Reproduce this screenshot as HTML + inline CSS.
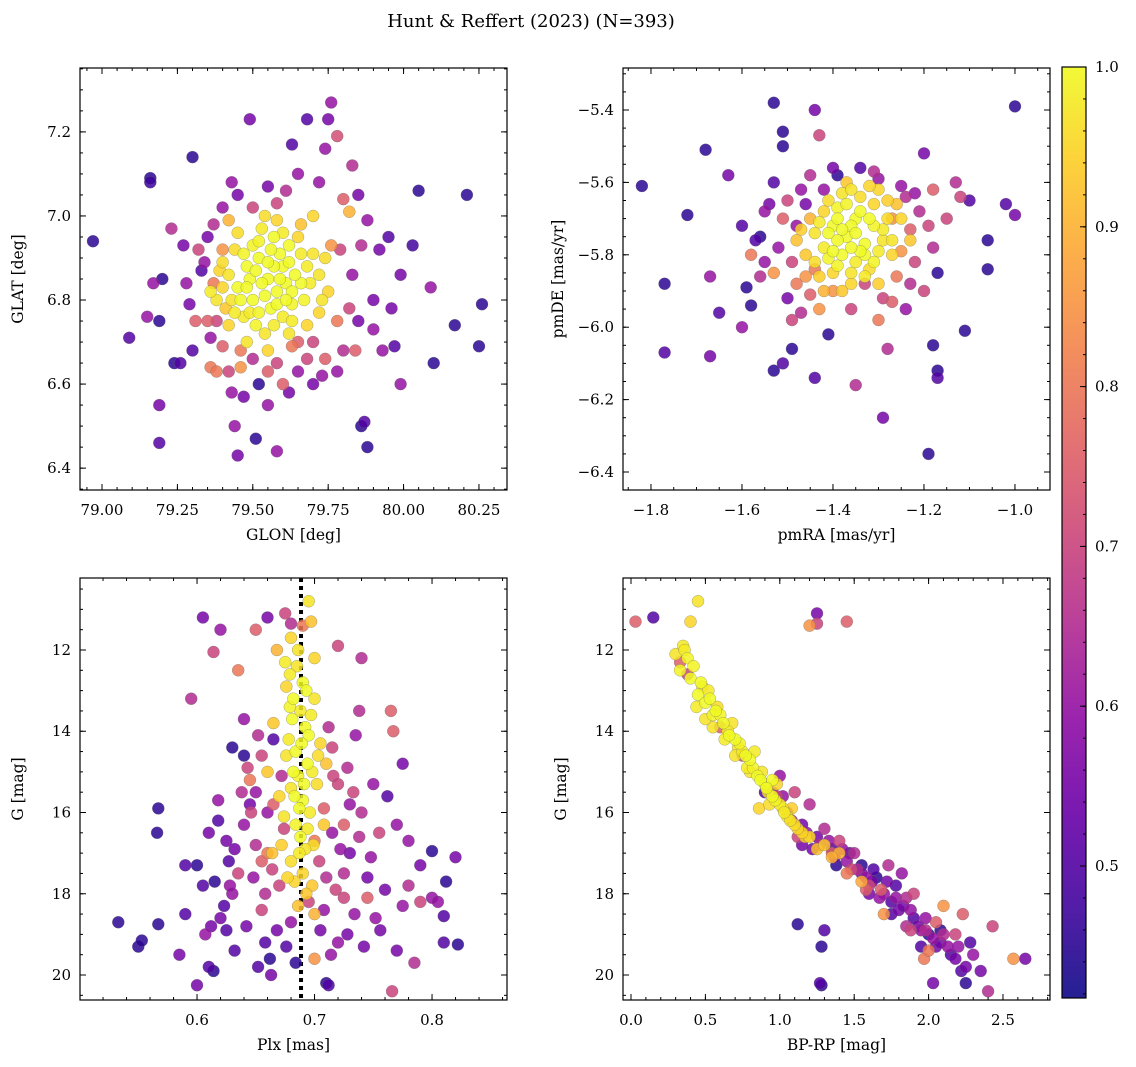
<!DOCTYPE html>
<html><head><meta charset="utf-8">
<style>
html,body{margin:0;padding:0;background:#fff;}
svg{display:block;font-family:"DejaVu Serif","Liberation Serif",serif;}
</style></head>
<body>
<svg id="fig" width="1136" height="1067" viewBox="0 0 1136 1067" xmlns="http://www.w3.org/2000/svg">
<defs>
<linearGradient id="plasma" x1="0" y1="1" x2="0" y2="0">
<stop offset="0" stop-color="#0d0887"/><stop offset="0.1" stop-color="#41049d"/><stop offset="0.2" stop-color="#6a00a8"/><stop offset="0.3" stop-color="#8f0da4"/><stop offset="0.4" stop-color="#b12a90"/><stop offset="0.5" stop-color="#cc4778"/><stop offset="0.6" stop-color="#e16462"/><stop offset="0.7" stop-color="#f2844b"/><stop offset="0.8" stop-color="#fca636"/><stop offset="0.9" stop-color="#fcce25"/><stop offset="1" stop-color="#f0f921"/>
</linearGradient>
</defs>
<text x="531" y="27" font-size="18" text-anchor="middle">Hunt &amp; Reffert (2023) (N=393)</text>
</svg>
<script>
const topLeftPoints = [
[78.97,6.94,.45],[79.16,7.09,.45],[79.16,7.08,.47],[79.30,7.14,.45],[79.49,7.23,.55],[79.76,7.27,.6],[79.75,7.23,.55],[79.68,7.23,.5],[79.63,7.17,.5],[79.83,7.12,.65],[79.74,7.16,.6],[79.78,7.19,.72],[80.05,7.06,.45],[80.21,7.05,.45],[80.26,6.79,.45],[80.25,6.69,.45],[80.17,6.74,.45],[80.09,6.83,.6],[80.10,6.65,.45],[79.99,6.86,.55],[80.03,6.93,.48],[79.09,6.71,.5],[79.15,6.76,.6],[79.19,6.75,.45],[79.17,6.84,.6],[79.20,6.85,.45],[79.23,6.97,.65],[79.19,6.55,.55],[79.19,6.46,.5],[79.24,6.65,.45],[79.26,6.65,.5],[79.45,6.43,.55],[79.51,6.47,.45],[79.44,6.50,.6],[79.58,6.44,.6],[79.86,6.50,.45],[79.87,6.51,.5],[79.88,6.45,.45],[79.99,6.60,.6],[79.52,6.60,.45],[79.60,6.60,.75],[79.30,6.68,.5],[79.29,6.79,.55],[79.33,6.87,.5],[79.35,6.95,.55],[79.38,6.75,.7],[79.42,6.63,.7],[79.47,6.57,.55],[79.55,6.55,.6],[79.65,6.63,.6],[79.70,6.60,.55],[79.74,6.66,.75],[79.80,6.68,.65],[79.85,6.75,.55],[79.90,6.73,.6],[79.93,6.68,.6],[79.92,6.92,.55],[79.95,6.95,.5],[79.88,6.99,.6],[79.85,7.05,.55],[79.80,7.04,.75],[79.65,7.10,.6],[79.55,7.07,.55],[79.45,7.05,.55],[79.40,7.02,.6],[79.32,6.92,.7],[79.37,6.84,.8],[79.40,6.92,.85],[79.42,6.99,.9],[79.78,6.75,.8],[79.82,7.01,.9],[79.76,6.93,.85],[79.35,6.75,.75],[79.63,6.69,.8],[79.46,6.64,.85],[79.31,6.75,.75],[79.36,6.64,.8],[79.70,6.70,.7],[79.83,6.86,.6],[79.58,7.03,.7],
[79.34,6.89,.6],[79.37,6.98,.65],[79.43,7.08,.6],[79.50,7.02,.7],[79.61,7.06,.65],[79.72,7.08,.6],[79.86,6.93,.65],[79.90,6.80,.55],[79.84,6.68,.75],[79.78,6.63,.6],[79.68,6.66,.7],[79.58,6.65,.7],[79.50,6.66,.65],[79.40,6.69,.75],[79.36,6.71,.6],[79.28,6.84,.6],[79.27,6.93,.55],[79.43,6.58,.6],[79.62,6.58,.55],[79.73,6.62,.6],[79.96,6.78,.55],[79.97,6.69,.5],[79.38,6.63,.8],[79.46,6.68,.8],[79.82,6.78,.7],[79.79,6.92,.7],[79.55,6.63,.75],[79.65,6.70,.75],
[79.45,6.83,1],[79.48,6.88,1],[79.52,6.90,1],[79.55,6.85,1],[79.58,6.82,1],[79.60,6.88,1],[79.62,6.93,1],[79.57,6.95,1],[79.53,6.97,.98],[79.50,6.80,1],[79.47,6.76,.98],[79.43,6.80,.97],[79.42,6.86,.97],[79.40,6.83,.95],[79.56,6.78,1],[79.60,6.76,.98],[79.63,6.79,.99],[79.66,6.84,1],[79.68,6.88,.98],[79.70,6.91,.97],[79.72,6.86,.97],[79.65,6.95,.95],[79.58,6.99,.95],[79.54,6.72,.97],[79.62,6.72,.97],[79.68,6.74,.95],[79.50,6.93,.99],[79.44,6.92,.96],[79.39,6.87,.95],[79.41,6.78,.93],[79.75,6.82,.95],[79.72,6.77,.95],[79.55,6.68,.95],[79.48,6.70,.97],[79.66,6.98,.92],[79.70,7.00,.95],[79.36,6.82,.98],[79.59,6.91,1],[79.53,6.84,1],[79.64,6.86,1],[79.49,6.85,1],[79.51,6.74,.99],[79.61,6.84,1],
[79.46,6.80,1],[79.54,6.81,1],[79.57,6.88,1],[79.63,6.82,1],[79.51,6.87,1],[79.47,6.91,.99],[79.44,6.77,.98],[79.58,6.79,1],[79.61,6.80,1],[79.67,6.80,.99],[79.69,6.84,.98],[79.56,6.92,1],[79.60,6.96,.98],[79.52,6.77,.99],[79.49,6.77,.98],[79.38,6.80,.97],[79.40,6.89,.96],[79.74,6.90,.96],[79.63,6.75,.98],[79.57,6.74,.98],[79.45,6.96,.96],[79.54,7.00,.96],[79.73,6.80,.97],[79.42,6.74,.95],[79.59,6.85,1],[79.48,6.83,1],[79.66,6.91,.98],[79.52,6.94,.99],[79.62,6.89,1],[79.55,6.89,1]
];
const topRightPoints = [
[-1.82,-5.61,.45],[-1.77,-5.88,.45],[-1.77,-6.07,.5],[-1.68,-5.51,.45],[-1.72,-5.69,.45],[-1.67,-5.86,.6],[-1.67,-6.08,.55],[-1.65,-5.96,.5],[-1.63,-5.58,.55],[-1.60,-6.00,.6],[-1.59,-5.89,.45],[-1.58,-5.94,.45],[-1.53,-5.38,.45],[-1.51,-5.46,.45],[-1.51,-5.50,.45],[-1.49,-6.06,.45],[-1.53,-6.12,.45],[-1.51,-6.10,.5],[-1.44,-5.40,.55],[-1.43,-5.47,.7],[-1.44,-6.14,.5],[-1.41,-6.02,.45],[-1.35,-6.16,.65],[-1.29,-6.25,.55],[-1.19,-6.35,.45],[-1.17,-6.12,.45],[-1.17,-6.14,.5],[-1.18,-6.05,.45],[-1.11,-6.01,.45],[-1.00,-5.39,.45],[-1.00,-5.69,.55],[-1.02,-5.66,.5],[-1.06,-5.84,.45],[-1.06,-5.76,.45],[-1.10,-5.65,.5],[-1.13,-5.60,.65],[-1.20,-5.52,.55],[-1.22,-5.63,.6],[-1.28,-6.06,.65],[-1.30,-5.59,.6],[-1.34,-5.56,.5],[-1.39,-5.58,.45],[-1.17,-5.85,.45],[-1.56,-5.75,.45],[-1.57,-5.76,.5],[-1.60,-5.72,.5],[-1.53,-5.60,.5],[-1.55,-5.82,.6],[-1.50,-5.92,.55],[-1.47,-5.96,.65],[-1.49,-5.98,.7],[-1.43,-5.95,.85],[-1.40,-5.90,.85],[-1.27,-5.93,.75],[-1.24,-5.95,.6],[-1.20,-5.90,.7],[-1.15,-5.70,.7],[-1.12,-5.64,.7],[-1.18,-5.62,.75],[-1.24,-5.64,.65],[-1.55,-5.68,.6],[-1.50,-5.65,.7],[-1.47,-5.62,.6],[-1.58,-5.80,.8],[-1.53,-5.85,.85],[-1.48,-5.88,.8],[-1.26,-5.86,.8],[-1.22,-5.82,.7],[-1.18,-5.78,.65],[-1.51,-5.70,.75],[-1.30,-5.98,.8],[-1.33,-5.88,.7],[-1.45,-5.58,.65],[-1.27,-5.70,.85],
[-1.54,-5.66,.55],[-1.48,-5.72,.6],[-1.46,-5.66,.55],[-1.42,-5.62,.6],[-1.25,-5.61,.6],[-1.21,-5.68,.65],[-1.19,-5.72,.7],[-1.23,-5.88,.65],[-1.29,-5.92,.7],[-1.36,-5.95,.7],[-1.45,-5.91,.75],[-1.52,-5.78,.6],[-1.49,-5.82,.7],[-1.44,-5.84,.8],[-1.23,-5.73,.75],[-1.31,-5.57,.65],[-1.40,-5.56,.55],[-1.56,-5.86,.65],[-1.46,-5.86,.85],[-1.25,-5.79,.85],
[-1.37,-5.75,1],[-1.40,-5.72,1],[-1.35,-5.70,1],[-1.33,-5.77,1],[-1.38,-5.80,1],[-1.42,-5.78,.98],[-1.44,-5.74,.97],[-1.31,-5.72,.99],[-1.29,-5.76,.97],[-1.35,-5.82,.98],[-1.39,-5.67,.99],[-1.34,-5.64,.96],[-1.31,-5.66,.95],[-1.42,-5.68,.95],[-1.46,-5.80,.93],[-1.40,-5.85,.95],[-1.32,-5.84,.96],[-1.27,-5.80,.95],[-1.26,-5.66,.92],[-1.30,-5.62,.95],[-1.37,-5.60,.93],[-1.45,-5.70,.9],[-1.48,-5.76,.92],[-1.36,-5.88,.95],[-1.43,-5.86,.94],[-1.28,-5.70,.96],[-1.33,-5.80,1],[-1.39,-5.76,1],[-1.36,-5.72,1],[-1.41,-5.81,.99],[-1.23,-5.76,.93],[-1.38,-5.63,.97],
[-1.35,-5.74,1],[-1.38,-5.73,1],[-1.34,-5.79,1],[-1.41,-5.74,1],[-1.32,-5.70,1],[-1.36,-5.78,1],[-1.39,-5.83,.99],[-1.30,-5.79,.98],[-1.33,-5.86,.98],[-1.37,-5.66,.99],[-1.43,-5.71,.98],[-1.40,-5.79,1],[-1.29,-5.73,.98],[-1.27,-5.76,.97],[-1.44,-5.82,.96],[-1.34,-5.68,1],[-1.31,-5.82,.99],[-1.36,-5.85,.97],[-1.41,-5.65,.96],[-1.32,-5.61,.95],[-1.28,-5.65,.94],[-1.25,-5.70,.95],[-1.47,-5.73,.94],[-1.38,-5.90,.93],[-1.30,-5.88,.94],[-1.42,-5.90,.9],[-1.36,-5.62,.97],[-1.39,-5.70,1]
];
const bottomLeftPoints = [
[.533,18.7,.45],[.550,19.3,.45],[.553,19.15,.45],[.567,18.75,.45],[.567,15.9,.45],[.566,16.5,.45],[.590,18.5,.5],[.595,13.2,.65],[.600,20.25,.55],[.607,19.0,.6],[.610,19.8,.5],[.614,19.9,.45],[.605,11.2,.55],[.614,12.05,.7],[.620,11.5,.6],[.623,18.3,.5],[.627,17.2,.5],[.630,14.4,.45],[.640,14.6,.45],[.643,14.9,.7],[.820,17.1,.55],[.810,19.2,.5],[.822,19.25,.45],[.810,18.55,.5],[.812,17.7,.45],[.800,16.95,.45],[.790,17.3,.55],[.780,16.7,.6],[.770,19.4,.55],[.766,20.4,.7],[.765,13.5,.75],[.767,14.0,.75],[.775,14.8,.55],[.785,19.7,.65],[.790,18.2,.7],[.710,20.2,.45],[.712,20.25,.5],[.700,19.6,.85],[.660,11.2,.55],[.675,11.1,.7],[.680,11.35,.65],[.600,17.3,.45],[.605,17.8,.5],[.610,16.5,.55],[.615,17.7,.45],[.625,18.9,.5],[.630,18.0,.6],[.635,17.5,.7],[.640,16.3,.6],[.645,15.8,.55],[.650,16.8,.65],[.655,17.2,.75],[.655,18.4,.7],[.658,19.2,.5],[.660,16.0,.6],[.662,19.6,.45],[.663,20.0,.55],[.665,14.2,.5],[.670,17.8,.7],[.672,15.1,.65],[.676,19.3,.5],[.680,18.7,.6],[.684,19.7,.45],[.695,18.2,.7],[.705,18.9,.55],[.710,17.6,.65],[.715,16.5,.6],[.720,19.2,.6],[.725,18.1,.7],[.730,17.0,.55],[.735,14.1,.6],[.738,13.5,.65],[.740,16.0,.65],[.745,17.6,.55],[.750,15.3,.6],[.752,18.6,.6],[.755,16.5,.7],[.760,17.9,.55],[.762,15.6,.5],[.770,16.3,.6],[.775,18.3,.6],[.780,17.8,.65],[.720,15.3,.7],[.725,16.3,.75],[.730,15.8,.6],[.715,14.4,.7],[.712,13.9,.65],[.640,13.7,.6],[.645,15.2,.8],[.650,15.5,.6],[.655,14.6,.7],[.625,16.7,.55],[.618,15.7,.6],[.635,12.5,.8],[.650,11.5,.75],[.690,11.4,.8],[.720,11.9,.7],[.740,12.2,.65],[.700,16.7,.8],[.745,18.1,.75],[.800,18.1,.6],[.805,18.2,.6],[.590,17.3,.5],[.585,19.5,.55],
[.620,18.6,.55],[.632,19.4,.5],[.642,18.8,.55],[.648,17.6,.6],[.652,19.8,.5],[.658,18.0,.65],[.664,17.4,.7],[.668,18.9,.55],[.674,16.4,.7],[.704,17.2,.7],[.708,18.4,.6],[.714,19.5,.6],[.718,17.9,.7],[.722,16.9,.6],[.728,19.0,.55],[.734,18.5,.6],[.738,16.6,.65],[.742,19.3,.55],[.748,17.1,.6],[.756,18.9,.55],[.728,14.9,.65],[.733,15.5,.7],[.646,16.0,.7],[.638,15.5,.65],[.632,16.9,.55],[.628,17.8,.6],[.618,16.2,.5],[.612,18.8,.55],[.708,15.9,.75],[.716,15.1,.7],[.665,15.8,.75],[.660,17.0,.8],[.652,14.1,.65],[.725,17.5,.65],
[.695,10.8,.97],[.680,11.7,.95],[.675,12.3,.98],[.685,12.4,.97],[.690,12.8,1],[.682,13.2,1],[.688,13.5,.98],[.692,13.9,1],[.678,14.2,.98],[.684,14.5,1],[.694,14.8,1],[.686,15.1,.99],[.680,15.4,.97],[.690,15.7,1],[.696,16.0,.98],[.684,16.3,.99],[.688,16.6,1],[.692,16.9,.97],[.680,17.2,.96],[.690,17.5,.95],[.698,17.8,.93],[.700,18.5,.9],[.670,15.6,.95],[.665,13.8,.93],[.700,13.2,.97],[.705,14.3,.95],[.702,15.3,.96],[.708,16.3,.93],[.672,16.8,.94],[.676,12.9,.95],[.668,12.0,.9],[.700,12.2,.95],[.710,14.8,.92],[.660,15.0,.93],[.695,14.1,1],[.687,15.9,1],[.683,17.7,.95],[.664,17.0,.92],[.697,11.3,.92],
[.686,12.0,.97],[.679,12.6,.98],[.693,13.0,1],[.681,13.7,1],[.697,13.6,.98],[.676,14.6,.97],[.698,15.0,.98],[.682,15.0,1],[.674,16.1,.97],[.694,16.4,.98],[.699,16.8,.96],[.677,17.6,.95],[.693,18.0,.93],[.686,18.3,.92],[.689,14.3,1],[.683,15.6,1],[.691,15.3,1],[.687,17.0,.98],[.679,13.4,.99],[.703,14.6,.96]
];
const bottomRightPoints = [
[0.03,11.3,.75],[0.15,11.2,.5],[1.25,11.1,.55],[1.25,11.35,.7],[1.20,11.4,.85],[1.45,11.3,.75],[1.12,18.75,.45],[1.27,20.2,.5],[1.28,20.25,.45],[2.43,18.8,.7],[2.57,19.6,.85],[2.65,19.6,.55],[2.40,20.4,.65],[2.03,20.2,.55],[1.97,19.6,.8],[0.33,12.3,.75],[0.38,12.6,.7],[0.60,13.9,.75],[0.75,14.6,.7],[0.95,15.5,.6],[1.05,16.0,.6],[1.15,16.3,.55],[1.25,16.6,.55],[1.35,16.9,.5],[1.45,17.2,.6],[1.55,17.5,.55],[1.60,17.8,.7],[1.65,17.6,.45],[1.70,18.0,.6],[1.75,18.2,.5],[1.80,18.4,.55],[1.85,18.1,.65],[1.90,18.6,.5],[1.95,18.9,.6],[2.00,19.0,.45],[2.05,19.3,.55],[2.10,19.0,.65],[2.15,19.5,.5],[2.20,19.3,.6],[2.25,19.8,.55],[2.30,19.5,.6],[2.23,18.5,.75],[2.10,18.3,.85],[1.90,18.0,.7],[1.82,17.5,.6],[1.73,17.3,.65],[1.68,17.9,.75],[1.50,17.0,.65],[1.42,16.9,.6],[1.30,16.4,.65],[1.40,16.7,.7],[1.20,15.8,.65],[1.10,15.5,.7],[1.00,15.1,.6],[1.55,17.3,.45],[1.63,17.4,.5],[1.78,17.8,.5],[1.98,18.6,.6],[2.08,18.9,.45],[2.18,19.0,.7],[2.28,19.2,.5],[2.35,19.9,.55],[2.25,20.2,.45],[1.95,19.3,.5],[1.85,18.8,.65],[1.75,18.5,.5],[1.60,18.0,.55],[1.38,17.3,.45],[1.30,18.9,.5],[1.28,19.3,.45],[1.45,17.5,.8],[1.70,18.5,.85],[2.00,19.4,.8],[1.15,16.8,.55],[0.90,15.5,.5],
[1.02,15.6,.6],[1.08,16.2,.65],[1.18,16.5,.6],[1.22,16.9,.55],[1.33,16.7,.6],[1.37,17.1,.55],[1.47,17.0,.5],[1.52,17.4,.65],[1.58,17.6,.6],[1.62,17.7,.55],[1.67,18.1,.6],[1.72,17.7,.55],[1.78,18.1,.6],[1.83,18.3,.55],[1.88,18.4,.6],[1.93,18.8,.55],[1.98,18.9,.65],[2.03,19.1,.6],[2.08,19.2,.55],[2.13,19.3,.6],[2.18,19.6,.55],[2.22,19.9,.5],[1.12,16.6,.7],[1.27,16.8,.65],[1.48,17.4,.7],[1.58,17.9,.75],[1.88,18.9,.7],[2.05,18.7,.75],[0.98,15.6,.7],[1.35,17.0,.75],
[0.45,10.8,.97],[0.40,11.3,.95],[0.35,11.9,.98],[0.30,12.1,.97],[0.33,12.5,.99],[0.40,12.7,1],[0.45,13.1,1],[0.50,13.3,1],[0.55,13.6,.99],[0.62,13.8,1],[0.70,14.2,1],[0.75,14.5,.98],[0.80,14.7,1],[0.85,15.1,1],[0.90,15.3,.99],[0.95,15.6,1],[1.00,15.8,.98],[1.05,16.1,.97],[1.10,16.3,.96],[1.20,16.6,.95],[1.30,16.8,.93],[1.40,17.0,.9],[0.86,15.9,.95],[0.48,12.9,.97],[0.58,13.4,.96],[0.65,14.0,.98],[0.72,14.4,.97],[0.78,14.9,.98],[0.88,15.0,.97],[0.92,15.5,.96],[0.98,15.3,.95],[1.02,15.9,.97],[1.15,16.5,.95],[1.25,16.9,.92],[0.38,12.2,.99],[0.52,13.0,.98],[0.68,13.8,.97],[0.83,14.5,.98],[1.08,15.9,.94],[1.35,17.1,.9],[1.55,17.7,.88],[0.95,15.2,1],
[0.36,12.0,.98],[0.42,12.4,.99],[0.47,12.8,1],[0.53,13.2,1],[0.57,13.5,1],[0.60,13.6,.99],[0.66,14.1,1],[0.73,14.3,.99],[0.77,14.6,1],[0.82,14.9,.99],[0.87,15.2,1],[0.91,15.4,1],[0.97,15.7,.99],[1.03,16.0,.98],[1.07,16.2,.97],[1.12,16.4,.95],[1.17,16.6,.94],[0.63,14.2,.98],[0.70,14.6,.97],[0.80,15.0,.97],[0.93,15.8,.96],[0.55,13.9,.97],[0.44,13.4,.98],[0.50,13.7,.97]
];
const colorTicks = [0.5,0.6,0.7,0.8,0.9,1.0];
const panels = [
 {name:'glon-glat', pts:topLeftPoints, x0:80,x1:507,y0:68,y1:490, xmin:78.927,xmax:80.343, ymin:6.348,ymax:7.352, invertY:false,
  xMaj:[79.00,79.25,79.50,79.75,80.00,80.25], xDec:2, xMin:0.05, yMaj:[6.4,6.6,6.8,7.0,7.2], yDec:1, yMin:0.05, xl:'GLON [deg]', yl:'GLAT [deg]'},
 {name:'pmra-pmde', pts:topRightPoints, x0:623,x1:1050,y0:68,y1:490, xmin:-1.8615,xmax:-0.923, ymin:-6.4497,ymax:-5.284, invertY:false,
  xMaj:[-1.8,-1.6,-1.4,-1.2,-1.0], xDec:1, xMin:0.05, yMaj:[-6.4,-6.2,-6.0,-5.8,-5.6,-5.4], yDec:1, yMin:0.05, xl:'pmRA [mas/yr]', yl:'pmDE [mas/yr]'},
 {name:'plx-g', pts:bottomLeftPoints, x0:80,x1:507,y0:578,y1:1000, xmin:0.5004,xmax:0.8638, ymin:10.228,ymax:20.615, invertY:true,
  xMaj:[0.6,0.7,0.8], xDec:1, xMin:0.02, yMaj:[12,14,16,18,20], yDec:0, yMin:0.5, xl:'Plx [mas]', yl:'G [mag]'},
 {name:'bprp-g', pts:bottomRightPoints, x0:623,x1:1050,y0:578,y1:1000, xmin:-0.0538,xmax:2.816, ymin:10.228,ymax:20.615, invertY:true,
  xMaj:[0,0.5,1.0,1.5,2.0,2.5], xDec:1, xMin:0.1, yMaj:[12,14,16,18,20], yDec:0, yMin:0.5, xl:'BP-RP [mag]', yl:'G [mag]'}
];
const cmin=0.4174, cmax=1.0;
const stops=['#0d0887','#41049d','#6a00a8','#8f0da4','#b12a90','#cc4778','#e16462','#f2844b','#fca636','#fcce25','#f0f921'];
function hex(h){return [1,3,5].map(i=>parseInt(h.substr(i,2),16));}
function cmap(v){let t=Math.max(0,Math.min(1,(v-cmin)/(cmax-cmin)))*10;let i=Math.min(9,Math.floor(t));let f=t-i;let a=hex(stops[i]),b=hex(stops[i+1]);return 'rgb('+a.map((c,k)=>Math.round(c+(b[k]-c)*f)).join(',')+')';}
const NS='http://www.w3.org/2000/svg';
const svg=document.getElementById('fig');
function mk(tag,attrs,parent){const e=document.createElementNS(NS,tag);for(const k in attrs)e.setAttribute(k,attrs[k]);(parent||svg).appendChild(e);return e;}
function fmt(v,d){let s=v.toFixed(d);return s.replace('-','\u2212');}
panels.forEach(P=>{
 const g=mk('g',{});
 
 
 const sx=v=>P.x0+(v-P.xmin)/(P.xmax-P.xmin)*(P.x1-P.x0);
 const sy=v=>P.invertY? P.y0+(v-P.ymin)/(P.ymax-P.ymin)*(P.y1-P.y0) : P.y1-(v-P.ymin)/(P.ymax-P.ymin)*(P.y1-P.y0);
 if(P.name==='plx-g'){
  const ln=mk('line',{x1:sx(0.6885),x2:sx(0.6885),y1:P.y0,y2:P.y1,stroke:'#000','stroke-width':4,'stroke-dasharray':'4,4'},g);
  
  
 }
 const pts=P.pts.slice().sort((a,b)=>a[2]-b[2]);
 pts.forEach(p=>{
  const c=mk('circle',{cx:sx(p[0]).toFixed(1),cy:sy(p[1]).toFixed(1),r:6,fill:cmap(p[2]),'fill-opacity':0.85,stroke:'#666','stroke-opacity':0.55,'stroke-width':0.5},g);
  
  
 });
 const fr=mk('rect',{x:P.x0,y:P.y0,width:P.x1-P.x0,height:P.y1-P.y0,fill:'none',stroke:'#000','stroke-width':1.2},g);
 
 
 const ticks=mk('g',{stroke:'#000','stroke-width':1},g);
 
 
 for(let v=Math.ceil(P.xmin/P.xMin)*P.xMin;v<=P.xmax;v+=P.xMin){const x=sx(v);mk('line',{x1:x,x2:x,y1:P.y1,y2:P.y1-3},ticks);mk('line',{x1:x,x2:x,y1:P.y0,y2:P.y0+3},ticks);}
 for(let v=Math.ceil(P.ymin/P.yMin)*P.yMin;v<=P.ymax;v+=P.yMin){const y=sy(v);mk('line',{x1:P.x0,x2:P.x0+3,y1:y,y2:y},ticks);mk('line',{x1:P.x1,x2:P.x1-3,y1:y,y2:y},ticks);}
 P.xMaj.forEach(v=>{const x=sx(v);mk('line',{x1:x,x2:x,y1:P.y1,y2:P.y1-6},ticks);mk('line',{x1:x,x2:x,y1:P.y0,y2:P.y0+6},ticks);
  const t=mk('text',{x:x,y:P.y1+25,'font-size':15,'text-anchor':'middle',stroke:'none'},g);t.textContent=fmt(v,P.xDec);
  
  });
 P.yMaj.forEach(v=>{const y=sy(v);mk('line',{x1:P.x0,x2:P.x0+6,y1:y,y2:y},ticks);mk('line',{x1:P.x1,x2:P.x1-6,y1:y,y2:y},ticks);
  const t=mk('text',{x:P.x0-9,y:y+5,'font-size':15,'text-anchor':'end',stroke:'none'},g);t.textContent=fmt(v,P.yDec);
  
  });
 const xl=mk('text',{x:(P.x0+P.x1)/2,y:P.y1+50,'font-size':15.5,'text-anchor':'middle'},g);xl.textContent=P.xl;
 
 
 const yx=P.x0-(P.name==='pmra-pmde'?65:62), ymid=(P.y0+P.y1)/2;
 const yl=mk('text',{x:yx+5,y:ymid,'font-size':15.5,'text-anchor':'middle',transform:'rotate(-90 '+(yx+5)+' '+ymid+')'},g);yl.textContent=P.yl;
 
 
});
const cb=mk('g',{});


const cbTop=67,cbBot=998,cbX=1062,cbW=24;
mk('rect',{x:cbX,y:cbTop,width:cbW,height:cbBot-cbTop,fill:'url(#plasma)','fill-opacity':0.9},cb);
mk('rect',{x:cbX,y:cbTop,width:cbW,height:cbBot-cbTop,fill:'none',stroke:'#000','stroke-width':1.2},cb);
const cy=v=>cbBot-(v-cmin)/(cmax-cmin)*(cbBot-cbTop);
for(let v=0.42;v<=1.0001;v+=0.02){mk('line',{x1:cbX+cbW,x2:cbX+cbW-3,y1:cy(v),y2:cy(v),stroke:'#000','stroke-width':1},cb);}
colorTicks.forEach(v=>{const y=cy(v);mk('line',{x1:cbX+cbW,x2:cbX+cbW-6,y1:y,y2:y,stroke:'#000','stroke-width':1},cb);
 const t=mk('text',{x:cbX+cbW+9,y:y+5,'font-size':15},cb);t.textContent=v.toFixed(1);
 
 });
</script>
</body></html>
